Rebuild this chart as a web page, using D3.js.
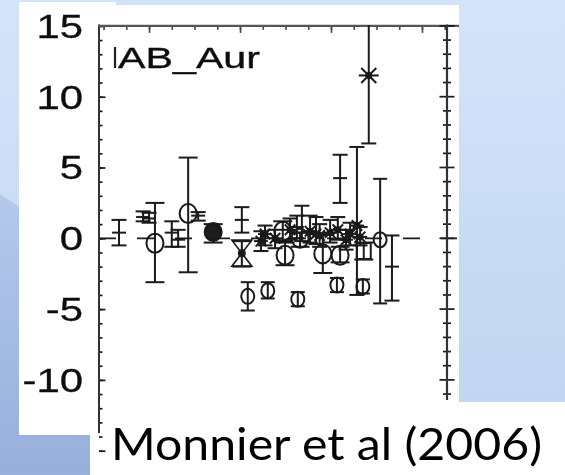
<!DOCTYPE html>
<html><head><meta charset="utf-8">
<script src="https://cdn.jsdelivr.net/npm/d3@7"></script>
<style>html,body{margin:0;padding:0;overflow:hidden;background:#cfe0f8}</style>
</head><body>
<svg id="c" width="565" height="475"></svg>
<script>
// ---- data ----
const starLabel = "AB_Aur";
const citation = "Monnier et al (2006)";
const yTickLabels = ["15","10","5","0","-5","-10"];
const yTickValues = [15,10,5,0,-5,-10];
const xPos   = [13.4,18.7,20.0,21.3,25.0,26.4,28.6,30.8,34.1,40.4,40.4,41.7,46.1,52.7,61.3,67.0,68.3,65.7,62.0,70.8,73.4,58.2,49.9,67.2,62.0,45.5,47.7,49.4,52.5,53.6,55.4,56.7,53.2,59.8,61.5,64.2,66.4,44.6,51.0,57.5,63.3];
const yVal   = [0.4,1.5,1.4,-0.35,0.4,-0.1,1.75,1.6,0.45,1.3,-1.05,-4.1,-3.7,-4.3,-3.3,-3.4,11.5,0.9,4.25,-0.1,-2.0,-1.1,-1.2,-0.9,-1.2,0.3,0.0,0.5,0.8,0.4,0.5,0.3,0.0,0.4,0.6,0.3,0.1,-0.2,0.6,0.2,-0.1];
const yLo    = [-0.5,1.2,1.1,-3.1,-0.6,-0.6,-2.4,1.25,-0.3,0.4,-2.0,-5.1,-4.25,-4.8,-3.8,-3.9,6.7,-4.0,2.5,-4.6,-4.4,-2.45,-1.9,-1.5,-1.7,-0.5,-0.7,-0.2,0.0,-0.2,-0.3,-0.4,-0.6,-0.3,-0.1,-0.5,-0.5,-0.9,-0.1,-0.6,-0.8];
const yHi    = [1.3,1.9,1.8,2.5,1.2,0.6,5.7,1.85,1.0,2.2,-0.2,-3.1,-3.1,-3.8,-2.8,-2.9,16,6.45,5.9,4.2,0.2,0.3,-0.3,-0.3,-0.6,0.9,0.6,1.2,1.6,2.3,1.6,1.5,0.4,1.3,1.5,1.1,0.8,0.5,1.4,1.0,0.6];
const symbols= ["dash","plus","plus","circle","plus","plus","circle","plus","filled","plus","hourglass","small","small","small","small","small","asterisk","asterisk","plus","small","plus","circle","circle","square","circle","asterisk","asterisk","circle","plus","plus","asterisk","asterisk","circle","asterisk","asterisk","asterisk","asterisk","asterisk","asterisk","asterisk","asterisk"];

// ---- drawing ----
const svg = d3.select("#c");
const defs = svg.append("defs");
const bg = defs.append("linearGradient").attr("id","bg").attr("x1",0).attr("y1",0).attr("x2",0).attr("y2",1);
bg.append("stop").attr("offset","0").attr("stop-color","#d3e4fa");
bg.append("stop").attr("offset","1").attr("stop-color","#c0d2ee");
const lg = defs.append("linearGradient").attr("id","lg").attr("x1",0).attr("y1",0).attr("x2",0).attr("y2",1);
lg.append("stop").attr("offset","0").attr("stop-color","#b3c9ec");
lg.append("stop").attr("offset","1").attr("stop-color","#97afda");
defs.append("filter").attr("id","blur").append("feGaussianBlur").attr("stdDeviation",0.55);
defs.append("clipPath").attr("id","plotclip").append("rect").attr("x",99).attr("y",25).attr("width",348).attr("height",410);

svg.append("rect").attr("width",565).attr("height",475).attr("fill","url(#bg)");
svg.append("path").attr("d","M0,195 C60,225 90,300 120,475 L0,475 Z").attr("fill","url(#lg)");

// white panels
svg.append("rect").attr("x",19).attr("y",2).attr("width",97).attr("height",10).attr("fill","#fff");
svg.append("rect").attr("x",19).attr("y",5).attr("width",440).attr("height",430).attr("fill","#fff");
svg.append("rect").attr("x",90).attr("y",402).attr("width",475).attr("height",73).attr("fill","#fff");

const x = d3.scaleLinear().domain([9, 85.5]).range([99, 447]);
const y = d3.scaleLinear().domain([-15, 15]).range([450.7, 25.9]);

const g = svg.append("g").attr("filter","url(#blur)");
const ink = "#1a1a1a";

// zero line (dashed)
g.append("line").attr("x1",x(9)).attr("x2",457).attr("y1",y(0)).attr("y2",y(0))
  .attr("stroke",ink).attr("stroke-width",1.7).attr("stroke-dasharray","17,21");

// left axis
const yMinor = d3.range(-15,16,1);
const leftMinor = g.append("g").attr("transform",`translate(${x(9)},0)`)
  .call(d3.axisLeft(y).tickValues(yMinor).tickSize(-3.5).tickFormat(""));
const leftMajor = g.append("g").attr("transform",`translate(${x(9)},0)`)
  .call(d3.axisLeft(y).tickValues([-15,-10,-5,0,5,10,15]).tickSize(-6.5).tickFormat(""));
[leftMinor,leftMajor].forEach(a=>{a.select(".domain").remove(); a.selectAll("line").attr("stroke",ink).attr("stroke-width",1.7);});
g.append("line").attr("x1",x(9)).attr("x2",x(9)).attr("y1",24.5).attr("y2",433).attr("stroke","#333").attr("stroke-width",2);

// tick labels
const labels = svg.append("g").attr("filter","url(#blur)");
labels.selectAll("text").data(yTickValues).join("text")
  .attr("transform",(d)=>`translate(83,${y(d)+11.8}) scale(1.27,1)`)
  .attr("text-anchor","end").attr("font-family","Liberation Sans, Arial, sans-serif")
  .attr("font-size",33).attr("fill","#111").attr("stroke","#111").attr("stroke-width",0.3)
  .text((d,i)=>yTickLabels[i]);

// top axis
const xMinor = d3.range(10,86,5);
const topMinor = g.append("g").attr("transform",`translate(0,${y(15)})`)
  .call(d3.axisTop(x).tickValues(xMinor).tickSize(-4).tickFormat(""));
const topMajor = g.append("g").attr("transform",`translate(0,${y(15)})`)
  .call(d3.axisTop(x).tickValues([20,40,60,80]).tickSize(-7).tickFormat(""));
[topMinor,topMajor].forEach(a=>{a.select(".domain").remove(); a.selectAll("line").attr("stroke","#444").attr("stroke-width",1.6);});
g.append("line").attr("x1",98).attr("x2",459).attr("y1",y(15)).attr("y2",y(15)).attr("stroke","#555").attr("stroke-width",2.4);

// right axis (crossing ticks)
const rx = x(85.5);
const rMinor = yMinor.filter(v=>y(v) < 401);
g.append("g").selectAll("line").data(rMinor).join("line")
  .attr("x1",d=> d%5===0 ? rx-7.5 : rx-4).attr("x2",d=> d%5===0 ? rx+7.5 : rx+4)
  .attr("y1",d=>y(d)).attr("y2",d=>y(d)).attr("stroke",ink).attr("stroke-width",1.7);
g.append("line").attr("x1",rx).attr("x2",rx).attr("y1",24.5).attr("y2",400).attr("stroke","#333").attr("stroke-width",2.2);

// star label
const lab = svg.append("g").attr("filter","url(#blur)");
lab.append("line").attr("x1",115).attr("x2",115).attr("y1",47).attr("y2",68).attr("stroke","#222").attr("stroke-width",2.2);
lab.append("text").attr("x",118).attr("y",68).attr("font-family","Liberation Sans, Arial, sans-serif")
  .attr("font-size",29.5).attr("textLength",142).attr("lengthAdjust","spacingAndGlyphs")
  .attr("fill","#111").attr("stroke","#111").attr("stroke-width",0.35).text(starLabel);

// data
const pts = xPos.map((v,i)=>({x:v,y:yVal[i],lo:yLo[i],hi:yHi[i],s:symbols[i]}));
const dg = g.append("g").attr("clip-path","url(#plotclip)");
const capW = s => s==="small" ? 14 : (s==="plus"||s==="dash"||s==="asterisk" ? 15 : 19);
pts.forEach(p=>{
  const px = x(p.x), py = y(p.y);
  const e = dg.append("g").attr("stroke",ink).attr("stroke-width",2).attr("fill","none");
  e.append("line").attr("x1",px).attr("x2",px).attr("y1",y(p.lo)).attr("y2",y(p.hi));
  const w = capW(p.s)/2;
  [p.lo,p.hi].forEach(v=>e.append("line").attr("x1",px-w).attr("x2",px+w).attr("y1",y(v)).attr("y2",y(v)));
  if (p.s==="circle") e.append("ellipse").attr("cx",px).attr("cy",py).attr("rx",8.5).attr("ry",9.5).attr("fill","none");
  else if (p.s==="small") e.append("ellipse").attr("cx",px).attr("cy",py).attr("rx",6.5).attr("ry",7.5).attr("fill","none");
  else if (p.s==="filled") e.append("ellipse").attr("cx",px).attr("cy",py).attr("rx",8.5).attr("ry",9).attr("fill",ink);
  else if (p.s==="square") e.append("rect").attr("x",px-7).attr("y",py-8).attr("width",14).attr("height",16);
  else if (p.s==="hourglass") {
    e.append("path").attr("d",`M${px-10},${py-13}L${px+10},${py-13}L${px},${py}Z`).attr("stroke-width",1.6);
    e.append("path").attr("d",`M${px-10},${py+13}L${px+10},${py+13}L${px},${py}Z`).attr("stroke-width",1.6);
    e.append("circle").attr("cx",px).attr("cy",py).attr("r",3).attr("fill",ink);
  }
  else if (p.s==="plus" || p.s==="dash") {
    e.append("line").attr("x1",px-7).attr("x2",px+7).attr("y1",py).attr("y2",py);
  } else if (p.s==="asterisk") {
    const r = p.y > 8 ? 10 : 7;
    e.append("line").attr("x1",px-r).attr("x2",px+r).attr("y1",py).attr("y2",py);
    e.append("line").attr("x1",px-r*0.75).attr("x2",px+r*0.75).attr("y1",py-r*0.75).attr("y2",py+r*0.75);
    e.append("line").attr("x1",px-r*0.75).attr("x2",px+r*0.75).attr("y1",py+r*0.75).attr("y2",py-r*0.75);
    e.append("circle").attr("cx",px).attr("cy",py).attr("r",2.5).attr("fill",ink);
  }
});

// citation
svg.append("text").attr("x",111).attr("y",460).attr("font-family","Lato, 'Open Sans', sans-serif")
  .attr("font-size",45).attr("textLength",431).attr("lengthAdjust","spacingAndGlyphs").attr("fill","#000").text(citation);
</script>
</body></html>
